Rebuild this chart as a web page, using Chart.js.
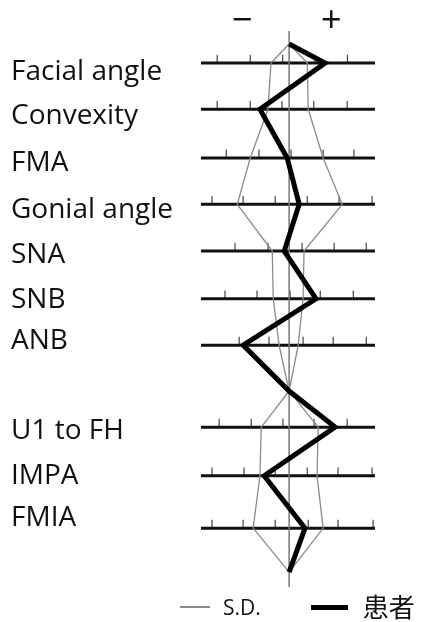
<!DOCTYPE html>
<html>
<head>
<meta charset="utf-8">
<script src="https://cdn.jsdelivr.net/npm/chart.js@4.4.0/dist/chart.umd.min.js"></script>
<style>
    html, body { margin: 0; padding: 0; background: #fff; }
    #wrap { position: relative; width: 422px; height: 622px; }
    #legend { position: absolute; left: 180px; top: 594px; height: 26px; display: flex; align-items: center;
        font-family: "Open Sans", "Noto Sans CJK JP", sans-serif; color: #111; white-space: nowrap; }
    .lg-item { display: flex; align-items: center; }
    .lg-item + .lg-item { margin-left: 50px; }
    .lg-line { display: inline-block; }
</style>
</head>
<body>
<div id="wrap"><canvas id="c"></canvas><div id="legend"></div></div>
<script>
// rows of the polygonogram, top to bottom
const ROWS = ['Facial angle', 'Convexity', 'FMA', 'Gonial angle', 'SNA', 'SNB', 'ANB', 'U1 to FH', 'IMPA', 'FMIA'];
const ROW_Y = [0.69, 1.69, 2.74, 3.74, 4.75, 5.78, 6.78, 8.55, 9.6, 10.73];
const LABEL_Y = [0.88, 1.83, 2.85, 3.86, 4.83, 5.8, 6.69, 8.63, 9.6, 10.51];
const APEX_Y = [0.28, 7.77, 11.68]; // top, between the two groups, bottom

// values in scale units (1 unit = one tick step), 0 = mean
const PATIENT = [1.11, -0.9, -0.06, 0.31, -0.15, 0.83, -1.42, 1.42, -0.77, 0.49];
const SD_LOW = [-0.56, -0.65, -1.2, -1.6, -0.52, -0.49, -0.31, -0.86, -0.9, -1.11];
const SD_HIGH = [0.56, 0.59, 1.05, 1.64, 0.46, 0.43, 0.28, 0.9, 0.86, 1.05];

const ROW_TICKS = [
    [-2.22, -1.2, -0.2, 0.8, 1.8],
    [-2.22, -1.2, -0.22, 0.76, 1.79],
    [-1.94, -0.93, 0.06, 1.05, 2.0],
    [-2.38, -1.42, -0.43, 0.56, 1.54, 2.56],
    [-1.67, -0.65, 0.4, 1.39, 2.38],
    [-1.98, -0.99, 0.03, 0.96, 1.98],
    [-1.54, -0.62, 0.43, 1.36, 2.38],
    [-2.16, -1.17, -0.19, 0.77, 1.79],
    [-2.38, -1.39, -0.43, 0.56, 1.51, 2.56],
    [-2.38, -1.42, -0.43, 0.59, 1.51, 2.59],
];
const AXIS_FROM = -2.72;
const AXIS_TO = 2.65;

const SIGN_POS = [-1.45, 1.3];
const SIGN_TEXT = ['－', '＋'];

const LEGEND = ['S.D.', '患者'];

const FONT = '"Open Sans", "Noto Sans CJK JP", sans-serif';
const TICK_LEN = 0.18;
const GAP = { x: null, y: null };

function profile(vals) {
    const pts = [{ x: 0, y: APEX_Y[0] }];
    vals.forEach((v, i) => {
        pts.push({ x: v, y: ROW_Y[i] });
        if (i === 6) pts.push({ x: 0, y: APEX_Y[1] });
    });
    pts.push({ x: 0, y: APEX_Y[2] });
    return pts;
}

const rowLines = ROW_Y.flatMap((y) => [{ x: AXIS_FROM, y }, { x: AXIS_TO, y }, GAP]);
const tickMarks = ROW_TICKS.flatMap((ts, i) =>
    ts.flatMap((t) => [{ x: t, y: ROW_Y[i] }, { x: t, y: ROW_Y[i] - TICK_LEN }, GAP]));
const meanLine = [{ x: 0, y: 0 }, { x: 0, y: 12 }];

const line = (extra) => Object.assign({ pointRadius: 0, tension: 0, clip: false, fill: false }, extra);

const htmlLegend = {
    id: 'htmlLegend',
    afterUpdate(chart) {
        const box = document.getElementById('legend');
        box.innerHTML = '';
        LEGEND.forEach((name) => {
            const ds = chart.data.datasets.find((d) => d.label === name);
            const item = document.createElement('div');
            item.className = 'lg-item';
            const thin = ds.borderWidth < 2;
            item.innerHTML = `<span class="lg-line" style="width:${thin ? 30 : 37}px;height:${thin ? 1.3 : 5}px;background:${ds.borderColor};margin-right:${thin ? 13 : 15}px;"></span>`
                + `<span style="font-size:${thin ? 21 : 26}px;line-height:1;">${name}</span>`;
            box.appendChild(item);
        });
    },
};

new Chart(document.getElementById('c'), {
    type: 'line',
    data: {
        datasets: [
            line({ label: '患者', data: profile(PATIENT), borderColor: '#000', borderWidth: 5, borderJoinStyle: 'miter' }),
            line({ label: 'S.D.', data: profile(SD_LOW), borderColor: '#8a8a8a', borderWidth: 1.3 }),
            line({ label: 'S.D.+', data: profile(SD_HIGH), borderColor: '#8a8a8a', borderWidth: 1.3 }),
            line({ label: 'mean', data: meanLine, borderColor: '#777', borderWidth: 1.5 }),
            line({ label: 'rows', data: rowLines, borderColor: '#111', borderWidth: 3 }),
            line({ label: 'ticks', data: tickMarks, borderColor: '#444', borderWidth: 1.2 }),
        ],
    },
    options: {
        responsive: true,
        maintainAspectRatio: false,
        animation: false,
        events: [],
        layout: { padding: { left: 11, right: 0, top: 0, bottom: 35 } },
        plugins: { legend: { display: false }, tooltip: { enabled: false } },
        scales: {
            x: { type: 'linear', min: -2.75, max: 4.1, display: false },
            x2: {
                type: 'linear', position: 'top', min: -2.75, max: 4.1,
                grid: { display: false, drawTicks: false }, border: { display: false },
                afterBuildTicks: (s) => { s.ticks = SIGN_POS.map((v) => ({ value: v })); },
                afterFit: (s) => { s.height = 31; },
                ticks: {
                    autoSkip: false, maxRotation: 0, minRotation: 0, padding: 0, color: '#111',
                    font: { family: '"Noto Sans CJK JP", sans-serif', size: 24, weight: 'bold', lineHeight: 1 },
                    callback: (v, i) => SIGN_TEXT[i],
                },
            },
            y: {
                type: 'linear', reverse: true, min: 0, max: 12,
                grid: { display: false, drawTicks: false }, border: { display: false },
                afterBuildTicks: (s) => { s.ticks = LABEL_Y.map((v) => ({ value: v })); },
                afterFit: (s) => { s.width = 189; },
                ticks: {
                    autoSkip: false, crossAlign: 'far', padding: 0, color: '#111',
                    font: { family: FONT, size: 28 },
                    callback: (v, i) => ROWS[i],
                },
            },
        },
    },
    plugins: [htmlLegend],
});
</script>
</body>
</html>
